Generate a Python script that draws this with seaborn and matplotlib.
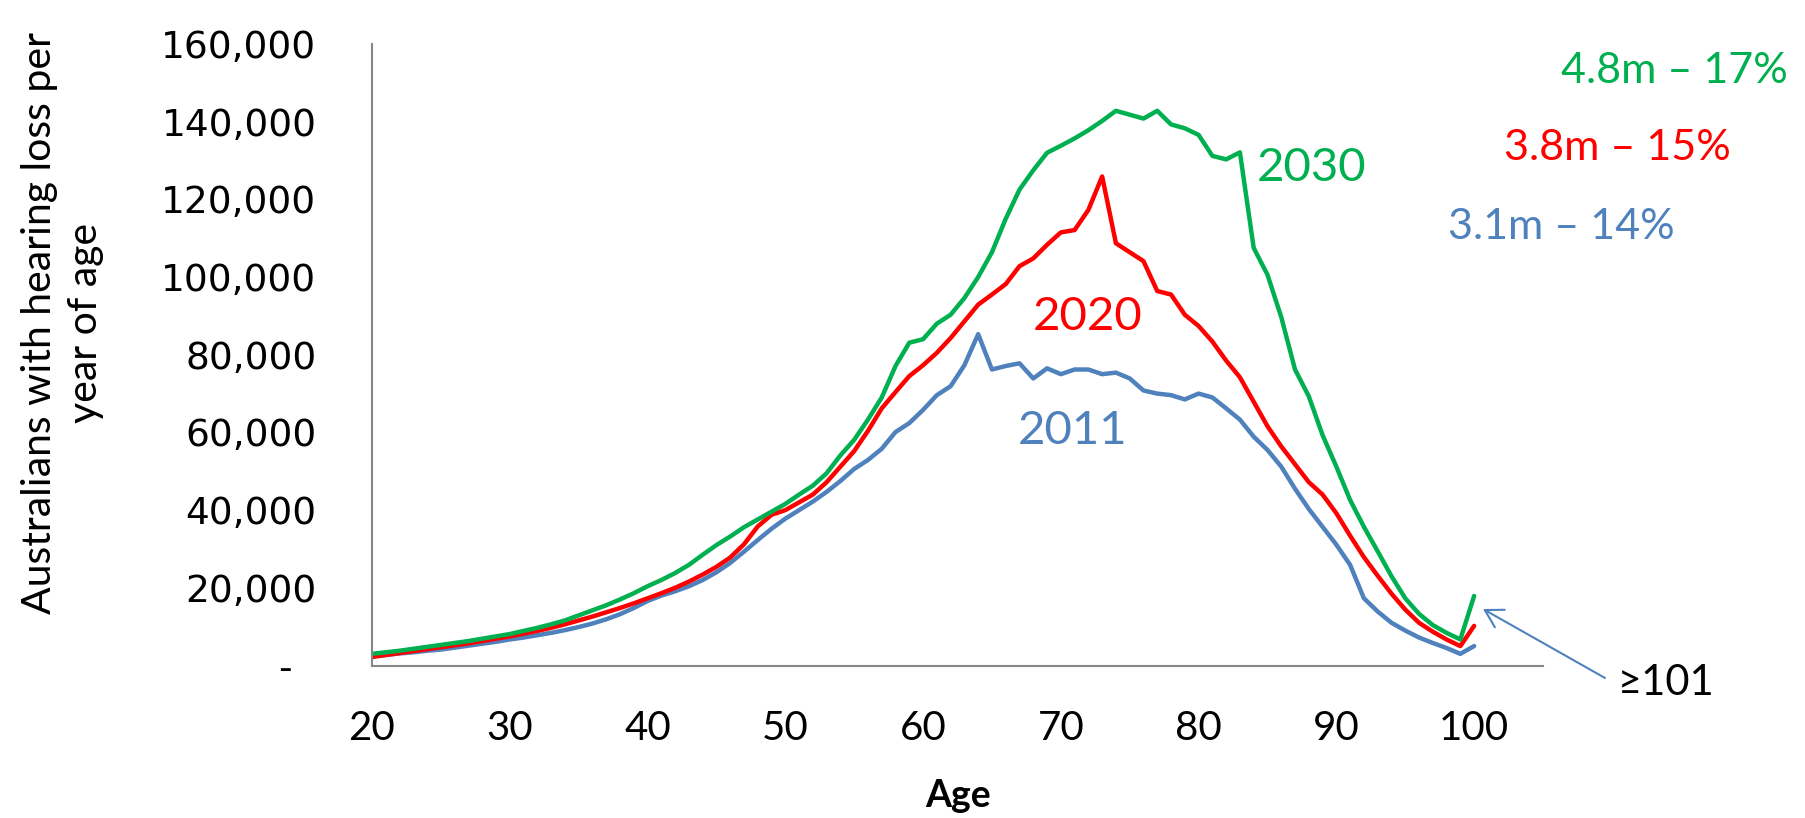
import numpy as np
import pandas as pd
import matplotlib
matplotlib.use("Agg")
import matplotlib.pyplot as plt
import seaborn as sns

# ---------------- data (thousands of people per single year of age) ----------------
ages = list(range(20, 101))

y2011 = [2.4, 2.7, 3.1, 3.4, 3.8, 4.1, 4.6, 5.1, 5.6, 6.1,
         6.7, 7.2, 7.8, 8.4, 9.1, 9.9, 10.8, 11.9, 13.2, 14.8,
         16.6, 18.0, 19.1, 20.4, 22.0, 24.0, 26.4, 29.3, 32.3, 35.2,
         37.8, 40.0, 42.2, 44.7, 47.5, 50.6, 52.9, 55.8, 60.1, 62.4,
         65.8, 69.6, 71.9, 77.3, 85.3, 76.2, 77.1, 77.8, 73.9, 76.5,
         75.0, 76.2, 76.2, 75.0, 75.4, 73.9, 70.8, 70.0, 69.6, 68.5,
         70.0, 69.0, 66.2, 63.3, 58.9, 55.5, 51.2, 45.5, 40.3, 35.7,
         31.1, 25.9, 17.3, 13.9, 11.0, 9.0, 7.2, 5.8, 4.5, 3.0,
         5.0]

y2020 = [2.2, 2.7, 3.2, 3.7, 4.2, 4.7, 5.2, 5.7, 6.3, 6.9,
         7.5, 8.2, 8.9, 9.7, 10.6, 11.6, 12.6, 13.7, 14.8, 16.0,
         17.3, 18.6, 20.0, 21.6, 23.4, 25.4, 27.8, 31.2, 35.8, 38.8,
         40.0, 42.0, 44.0, 47.2, 51.2, 55.2, 60.4, 66.2, 70.4, 74.5,
         77.3, 80.5, 84.3, 88.6, 92.9, 95.5, 98.2, 102.8, 104.8, 108.3,
         111.5, 112.1, 117.3, 125.9, 108.7, 106.4, 104.1, 96.4, 95.5, 90.3,
         87.4, 83.4, 78.5, 74.2, 67.9, 61.6, 56.4, 51.8, 47.2, 44.0,
         39.2, 33.4, 27.9, 23.1, 18.5, 14.4, 11.0, 8.7, 6.7, 5.0,
         10.2]

y2030 = [3.0, 3.4, 3.8, 4.3, 4.8, 5.3, 5.8, 6.3, 6.9, 7.5,
         8.1, 8.9, 9.7, 10.6, 11.6, 12.9, 14.2, 15.5, 17.0, 18.6,
         20.4, 22.0, 23.8, 25.9, 28.5, 31.0, 33.2, 35.6, 37.6, 39.6,
         41.6, 44.0, 46.3, 49.5, 54.1, 58.1, 63.3, 69.0, 77.1, 83.1,
         84.0, 88.0, 90.3, 94.6, 100.0, 106.4, 115.0, 122.5, 127.5, 132.0,
         133.8, 135.7, 137.8, 140.2, 142.8, 141.8, 140.8, 142.8, 139.3, 138.3,
         136.6, 131.2, 130.3, 132.1, 107.5, 100.6, 89.7, 76.2, 69.3, 59.3,
         51.2, 42.6, 35.7, 29.4, 23.0, 17.3, 13.3, 10.4, 8.4, 6.7,
         17.9]

series_names = ["2011", "2020", "2030"]
totals = ["3.1m \u2013 14%", "3.8m \u2013 15%", "4.8m \u2013 17%"]
y_ticks = [0, 20000, 40000, 60000, 80000, 100000, 120000, 140000, 160000]
y_ticklabels = ["-  ", "20,000", "40,000", "60,000", "80,000", "100,000",
                "120,000", "140,000", "160,000"]
x_ticks = list(range(20, 106, 5))
x_ticklabels = ["20", "", "30", "", "40", "", "50", "", "60", "", "70", "",
                "80", "", "90", "", "100", ""]
ylabel = "Australians with hearing loss per\nyear of age"
xlabel = "Age"
last_label = "\u2265101"

colors = {"2011": "#4F81BD", "2020": "#FF0000", "2030": "#00B050"}

# ---------------- long table for seaborn ----------------
df = pd.DataFrame({
    "Age": ages * 3,
    "Count": np.array(y2011 + y2020 + y2030) * 1000,
    "Year": ["2011"] * len(ages) + ["2020"] * len(ages) + ["2030"] * len(ages),
})

sns.set_theme(style="white")
plt.rcParams["font.family"] = ["Lato", "DejaVu Sans"]

W, H = 1806, 818
fig = plt.figure(figsize=(W / 100, H / 100), dpi=100)
fig.patch.set_facecolor("white")
ax = fig.add_axes([372 / W, 152.5 / H, 1171 / W, 621.5 / H])

sns.lineplot(data=df, x="Age", y="Count", hue="Year", hue_order=series_names,
             palette=colors, linewidth=3.2, estimator=None, errorbar=None,
             legend=False, ax=ax)
for ln in ax.lines:
    ln.set_solid_joinstyle("round")
    ln.set_solid_capstyle("round")

ax.set_xlim(20, 105)
ax.set_ylim(0, 160000)
ax.set_xlabel("")
ax.set_ylabel("")

ax.set_xticks(x_ticks)
ax.set_xticklabels(x_ticklabels, fontsize=29, fontfamily="Lato")
ax.set_yticks(y_ticks)
ax.set_yticklabels(y_ticklabels, fontsize=27, fontfamily="DejaVu Sans")

spine_col = "#868686"
for s in ["top", "right"]:
    ax.spines[s].set_visible(False)
for s in ["left", "bottom"]:
    ax.spines[s].set_color(spine_col)
    ax.spines[s].set_linewidth(1.5)
ax.tick_params(axis="x", direction="in", length=10.8, width=1.4,
               color=spine_col, pad=32, labelcolor="black")
ax.tick_params(axis="y", direction="in", length=10.8, width=1.4,
               color=spine_col, pad=40, labelcolor="black")
ax.grid(False)
ax.set_facecolor("white")

def fy(py):
    return 1 - py / H

# axis titles
fig.text(63 / W, fy(323), ylabel, rotation=90, ha="center", va="center",
         fontsize=29.5, linespacing=1.3, multialignment="center", color="black")
fig.text(958 / W, fy(807), xlabel, ha="center", va="baseline",
         fontsize=27, fontweight="bold", color="black")

# series labels
fig.text(1312 / W, fy(181), "2030", ha="center", va="baseline", fontsize=34, color=colors["2030"])
fig.text(1088 / W, fy(330), "2020", ha="center", va="baseline", fontsize=34, color=colors["2020"])
fig.text(1073 / W, fy(444), "2011", ha="center", va="baseline", fontsize=34, color=colors["2011"])

# totals
fig.text(1674 / W, fy(83), totals[2], ha="center", va="baseline", fontsize=31, color=colors["2030"])
fig.text(1617 / W, fy(160), totals[1], ha="center", va="baseline", fontsize=31, color=colors["2020"])
fig.text(1561 / W, fy(239), totals[0], ha="center", va="baseline", fontsize=31, color=colors["2011"])

# arrow + >=101 label
ax.annotate("", xy=(1483, H - 609), xytext=(1605, H - 678), xycoords="figure pixels",
            textcoords="figure pixels",
            arrowprops=dict(arrowstyle="->,head_length=0.62,head_width=0.36",
                            mutation_scale=20, color=colors["2011"], lw=1.5,
                            shrinkA=0, shrinkB=0))
fig.text(1666 / W, fy(695), last_label, ha="center", va="baseline", fontsize=30,
         color="black", family=["Lato", "DejaVu Sans"])

fig.savefig("out.png", dpi=100, facecolor="white")
